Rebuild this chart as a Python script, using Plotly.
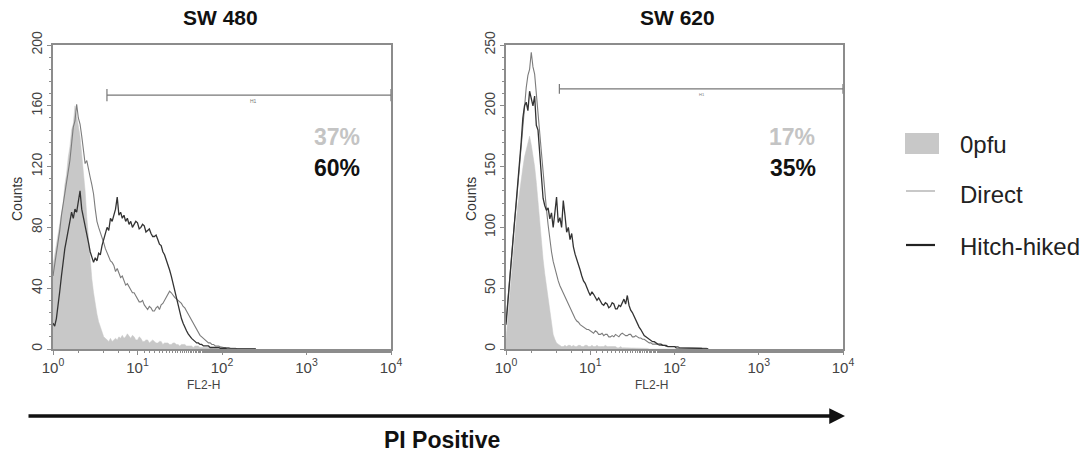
import plotly.graph_objects as go

# FL2-H channel positions (log10 of fluorescence), 0.02 decade per channel
FL2_LOG = [0.00, 0.02, 0.04, 0.06, 0.08, 0.10, 0.12, 0.14, 0.16, 0.18,
           0.20, 0.22, 0.24, 0.26, 0.28, 0.30, 0.32, 0.34, 0.36, 0.38,
           0.40, 0.42, 0.44, 0.46, 0.48, 0.50, 0.52, 0.54, 0.56, 0.58,
           0.60, 0.62, 0.64, 0.66, 0.68, 0.70, 0.72, 0.74, 0.76, 0.78,
           0.80, 0.82, 0.84, 0.86, 0.88, 0.90, 0.92, 0.94, 0.96, 0.98,
           1.00, 1.02, 1.04, 1.06, 1.08, 1.10, 1.12, 1.14, 1.16, 1.18,
           1.20, 1.22, 1.24, 1.26, 1.28, 1.30, 1.32, 1.34, 1.36, 1.38,
           1.40, 1.42, 1.44, 1.46, 1.48, 1.50, 1.52, 1.54, 1.56, 1.58,
           1.60, 1.62, 1.64, 1.66, 1.68, 1.70, 1.72, 1.74, 1.76, 1.78,
           1.80, 1.82, 1.84, 1.86, 1.88, 1.90, 1.92, 1.94, 1.96, 1.98,
           2.00, 2.02, 2.04, 2.06, 2.08, 2.10, 2.12, 2.14, 2.16, 2.18,
           2.20, 2.22, 2.24, 2.26, 2.28, 2.30, 2.32, 2.34, 2.36, 2.38,
           2.40]
FL2 = [10 ** v for v in FL2_LOG]

# SW480 counts
SW480_0PFU = [55, 62, 66, 74, 80, 90, 96, 108, 115, 126,
              133, 144, 148, 160, 153, 148, 140, 128, 118, 104,
              87, 72, 58, 46, 37, 29, 23, 18, 15, 11,
              8, 7, 6, 5, 7, 5, 6, 7, 6, 8,
              7, 9, 7, 8, 10, 8, 7, 9, 8, 6,
              6, 8, 7, 5, 5, 6, 6, 4, 5, 6,
              5, 4, 4, 5, 5, 3, 4, 4, 4, 3,
              3, 4, 4, 3, 3, 2, 3, 3, 3, 2,
              2, 2, 2, 1, 2, 2, 2, 1, 1, 1,
              1, 1, 1, 1, 1, 0.5, 1, 0.5, 0.5, 0.5,
              0.5, 0, 0, 0, 0, 0, 0, 0, 0, 0,
              0, 0, 0, 0, 0, 0, 0, 0, 0, 0,
              0]
SW480_DIRECT = [48, 55, 62, 70, 78, 88, 95, 103, 110, 118,
                124, 135, 146, 150, 161, 152, 148, 140, 131, 122,
                124, 117, 113, 108, 102, 92, 84, 80, 77, 73,
                70, 66, 63, 60, 58, 57, 55, 51, 53, 50,
                47, 48, 45, 42, 43, 41, 40, 37, 37, 35,
                34, 31, 31, 32, 29, 27, 26, 28, 27, 25,
                25, 27, 28, 26, 29, 30, 32, 34, 36, 38,
                37, 35, 34, 33, 32, 31, 30, 28, 27, 25,
                23, 20, 18, 16, 14, 12, 11, 9, 8, 7,
                6, 5, 4, 4, 3, 3, 2, 2, 2, 1.5,
                1, 1, 1, 1, 1, 0.5, 0.5, 0.5, 0.5, 0,
                0, 0, 0, 0, 0, 0, 0, 0, 0, 0,
                0]
SW480_HITCH = [17, 15, 20, 28, 38, 48, 58, 66, 72, 78,
               84, 90, 86, 92, 90, 96, 104, 92, 87, 82,
               76, 70, 64, 60, 57, 60, 58, 63, 62, 68,
               72, 76, 80, 78, 86, 84, 88, 92, 100, 88,
               90, 86, 88, 84, 86, 82, 84, 80, 82, 84,
               83, 79, 80, 82, 81, 77, 78, 79, 76, 74,
               74, 75, 72, 69, 68, 64, 62, 59, 56, 52,
               48, 43, 38, 34, 30, 25, 20, 17, 14, 12,
               10, 8, 7, 6, 5, 4, 4, 3, 3, 2,
               2, 2, 2, 1, 1, 1, 1, 1, 1, 0.5,
               0.5, 0.5, 0.5, 0, 0, 0, 0, 0, 0, 0,
               0, 0, 0, 0, 0, 0, 0, 0, 0, 0,
               0]

# SW620 counts
SW620_0PFU = [8, 25, 42, 58, 72, 88, 104, 118, 130, 140,
              149, 158, 163, 170, 175, 168, 160, 150, 137, 120,
              104, 88, 74, 62, 52, 42, 30, 20, 12, 8,
              5, 4, 3, 2, 2, 3, 2, 3, 3, 2,
              3, 2, 2, 3, 3, 2, 2, 3, 3, 2,
              2, 3, 2, 2, 3, 2, 2, 2, 2, 3,
              2, 2, 2, 2, 2, 2, 1, 1, 2, 1,
              1, 1, 1, 1, 1, 1, 1, 1, 1, 1,
              1, 0.5, 0.5, 0.5, 0.5, 0, 0, 0, 0, 0,
              0, 0, 0, 0, 0, 0, 0, 0, 0, 0,
              0, 0, 0, 0, 0, 0, 0, 0, 0, 0,
              0, 0, 0, 0, 0, 0, 0, 0, 0, 0,
              0]
SW620_DIRECT = [22, 40, 56, 72, 88, 104, 118, 134, 148, 165,
                185, 200, 215, 225, 230, 244, 232, 226, 212, 196,
                178, 162, 145, 130, 115, 102, 90, 80, 72, 66,
                60, 56, 52, 49, 46, 43, 40, 36, 33, 30,
                27, 25, 23, 22, 20, 19, 18, 17, 16, 16,
                15, 14, 13, 15, 14, 12, 12, 13, 11, 12,
                12, 10, 10, 11, 10, 12, 11, 10, 12, 13,
                12, 11, 11, 12, 12, 10, 10, 11, 10, 9,
                9, 8, 8, 7, 6, 5, 5, 4, 4, 4,
                4, 3, 3, 3, 3, 2, 2, 2, 2, 2,
                2, 2, 2, 1, 1, 1, 1, 1, 1, 1,
                1, 1, 1, 1, 1, 0.5, 0.5, 0.5, 0.5, 0.5,
                0]
SW620_HITCH = [20, 36, 52, 68, 85, 100, 118, 132, 148, 170,
               190, 200, 203, 196, 212, 205, 200, 208, 184, 180,
               160, 140, 124, 118, 114, 116, 107, 112, 100, 112,
               125, 104, 108, 100, 122, 110, 96, 100, 90, 95,
               84, 78, 74, 70, 65, 60, 56, 54, 50, 47,
               44, 47, 45, 42, 40, 42, 39, 37, 36, 38,
               37, 34, 35, 38, 37, 33, 33, 36, 35, 38,
               41, 37, 44, 36, 32, 30, 27, 24, 20, 18,
               16, 13, 11, 10, 9, 8, 7, 6, 6, 5,
               4, 4, 4, 3, 3, 3, 2, 2, 2, 2,
               2, 1, 1, 1, 1, 1, 1, 1, 1, 1,
               1, 0.5, 0.5, 0.5, 0.5, 0.5, 0.5, 0, 0, 0,
               0]

# Marker gates (start, end, height)
GATE_SW480 = [4.35, 10000, 167]
GATE_SW620 = [4.3, 10000, 214]

PCT_LABELS = {"SW480": ["37%", "60%"], "SW620": ["17%", "35%"]}
X_TICKS = [1, 10, 100, 1000, 10000]
X_TICKTEXT = ["10<sup>0</sup>", "10<sup>1</sup>", "10<sup>2</sup>", "10<sup>3</sup>", "10<sup>4</sup>"]
Y_TICKS_SW480 = [0, 40, 80, 120, 160, 200]
Y_TICKS_SW620 = [0, 50, 100, 150, 200, 250]

FILL_C = "#c8c8c8"
DIRECT_C = "#7c7c7c"
HITCH_C = "#333333"
FRAME_C = "#8c8c8c"
FONT = "Liberation Sans, Arial, sans-serif"

fig = go.Figure()

def add_panel(xa, ya, f0, fd, fh, gate):
    fig.add_trace(go.Scatter(x=FL2, y=f0, xaxis=xa, yaxis=ya, mode="lines",
                             line=dict(color=FILL_C, width=0.5), fill="tozeroy",
                             fillcolor=FILL_C, showlegend=False, hoverinfo="skip"))
    fig.add_trace(go.Scatter(x=FL2, y=fd, xaxis=xa, yaxis=ya, mode="lines",
                             line=dict(color=DIRECT_C, width=1.1), showlegend=False))
    fig.add_trace(go.Scatter(x=FL2, y=fh, xaxis=xa, yaxis=ya, mode="lines",
                             line=dict(color=HITCH_C, width=1.3), showlegend=False))
    g0, g1, gy = gate
    fig.add_trace(go.Scatter(x=[g0, g1], y=[gy, gy], xaxis=xa, yaxis=ya, mode="lines",
                             line=dict(color="#777777", width=1.2), showlegend=False,
                             hoverinfo="skip"))
    fig.add_trace(go.Scatter(x=[g0, g0, None, g1, g1], y=[gy - 4, gy + 4, None, gy - 4, gy + 4],
                             xaxis=xa, yaxis=ya, mode="lines",
                             line=dict(color="#777777", width=1.2), showlegend=False,
                             hoverinfo="skip"))

add_panel("x", "y", SW480_0PFU, SW480_DIRECT, SW480_HITCH, GATE_SW480)
add_panel("x2", "y2", SW620_0PFU, SW620_DIRECT, SW620_HITCH, GATE_SW620)

W, H = 1090, 454
def px(x):
    return x / W
def py(y):
    return 1 - y / H

ydom = [py(349), py(45)]
xcommon = dict(type="log", range=[0, 4], tickvals=X_TICKS, ticktext=X_TICKTEXT,
               showline=True, linecolor=FRAME_C, linewidth=1.5, mirror=True,
               ticks="outside", ticklen=4, tickcolor=FRAME_C, automargin=False,
               minor=dict(ticks="outside", ticklen=2, tickcolor=FRAME_C, showgrid=False),
               showgrid=False, zeroline=False,
               tickfont=dict(family=FONT, size=15, color="#444444"))
ycommon = dict(showline=True, linecolor=FRAME_C, linewidth=1.5, mirror=True,
               ticks="outside", ticklen=4, tickcolor=FRAME_C, tickangle=-90,
               showgrid=False, zeroline=False, automargin=False,
               tickfont=dict(family=FONT, size=14, color="#444444"))

fig.update_layout(
    width=W, height=H, margin=dict(l=0, r=0, t=0, b=0, autoexpand=False),
    paper_bgcolor="white", plot_bgcolor="white", showlegend=False,
    xaxis=dict(domain=[px(53), px(391)], anchor="y", **xcommon),
    xaxis2=dict(domain=[px(506), px(843)], anchor="y2", **xcommon),
    yaxis=dict(domain=ydom, anchor="x", range=[0, 200], tickvals=Y_TICKS_SW480,
               minor=dict(ticks="outside", ticklen=2, dtick=8, tickcolor=FRAME_C), **ycommon),
    yaxis2=dict(domain=ydom, anchor="x2", range=[0, 250], tickvals=Y_TICKS_SW620,
                minor=dict(ticks="outside", ticklen=2, dtick=10, tickcolor=FRAME_C), **ycommon),
)

ann = []
def text(x, y, s, size, color="#222222", bold=False, angle=0, xanchor="center"):
    ann.append(dict(x=px(x), y=py(y), xref="paper", yref="paper", text=("<b>%s</b>" % s) if bold else s,
                    showarrow=False, textangle=angle, xanchor=xanchor, yanchor="middle",
                    font=dict(family=FONT, size=size, color=color)))

text(220, 18, "SW 480", 21, "#111111", True)
text(677, 18, "SW 620", 21, "#111111", True)
text(17, 199, "Counts", 14, "#333333", angle=-90)
text(471, 199, "Counts", 14, "#333333", angle=-90)
text(203, 385, "FL2-H", 12, "#444444")
text(651, 385, "FL2-H", 12, "#444444")
text(253, 101, "H1", 5, "#777777")
text(702, 94, "H1", 4, "#777777")
text(337, 137, PCT_LABELS["SW480"][0], 23, "#c4c4c4", True)
text(337, 168, PCT_LABELS["SW480"][1], 23, "#111111", True)
text(792, 137, PCT_LABELS["SW620"][0], 23, "#c4c4c4", True)
text(793, 168, PCT_LABELS["SW620"][1], 23, "#111111", True)
text(442, 440, "PI Positive", 23, "#111111", True)

# legend
text(958, 145, "0pfu", 24, "#222222", xanchor="left")
text(958, 194, "Direct", 24, "#222222", xanchor="left")
text(958, 246, "Hitch-hiked", 24, "#222222", xanchor="left")

# arrow
ann.append(dict(x=px(845), y=py(416), xref="paper", yref="paper", ax=-(845 - 27), ay=0,
                axref="pixel", ayref="pixel", showarrow=True, arrowhead=2, arrowsize=0.9,
                arrowwidth=3.5, arrowcolor="#111111", text=""))
fig.update_layout(annotations=ann)

fig.update_layout(shapes=[
    dict(type="rect", xref="paper", yref="paper", x0=px(905), x1=px(939), y0=py(154), y1=py(133),
         fillcolor=FILL_C, line=dict(width=0)),
    dict(type="line", xref="paper", yref="paper", x0=px(906), x1=px(935), y0=py(191), y1=py(191),
         line=dict(color="#c8c8c8", width=2)),
    dict(type="line", xref="paper", yref="paper", x0=px(906), x1=px(935), y0=py(245), y1=py(245),
         line=dict(color="#222222", width=2.2)),
])

fig.write_html("out.html")
